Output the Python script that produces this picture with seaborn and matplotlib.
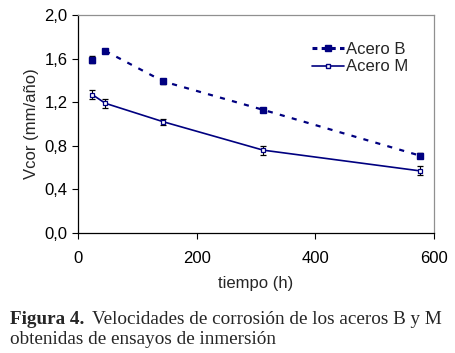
import matplotlib
matplotlib.use("Agg")
import matplotlib.pyplot as plt
import matplotlib.ticker as mticker
import pandas as pd
import seaborn as sns

# Corrosion rates
tiempo = [24, 46, 144, 312, 576]
vcor_b = [1.59, 1.67, 1.39, 1.13, 0.71]
vcor_m = [1.27, 1.19, 1.02, 0.76, 0.57]
err_b = [0.03, 0.02, 0.02, 0.02, 0.02]
err_m = [0.04, 0.04, 0.03, 0.04, 0.04]

NAVY = "#000080"
FS = 12

sns.set_style("white")
plt.rcParams["font.family"] = ["Liberation Sans", "DejaVu Sans"]

df_b = pd.DataFrame({"tiempo": tiempo, "vcor": vcor_b})
df_m = pd.DataFrame({"tiempo": tiempo, "vcor": vcor_m})

fig = plt.figure(figsize=(4.56, 3.53), dpi=100)
ax = fig.add_axes([0.171, 0.34, 0.781, 0.6175])

# Acero B: dashed trend from the second point on, markers on all points
sns.lineplot(data=df_b.iloc[1:], x="tiempo", y="vcor", ax=ax, color=NAVY,
             linestyle=(0, (2.3, 3.3)), lw=1.6, legend=False)
ax.errorbar(tiempo, vcor_b, yerr=err_b, fmt="s", ms=4, color=NAVY,
            mfc=NAVY, ecolor="black", elinewidth=0.8, capsize=2)

# Acero M
sns.lineplot(data=df_m, x="tiempo", y="vcor", ax=ax, color=NAVY,
             lw=1.2, legend=False)
ax.errorbar(tiempo, vcor_m, yerr=err_m, fmt="s", ms=3.5, color=NAVY,
            mfc="white", mew=0.9, ecolor="black", elinewidth=0.8, capsize=2)

ax.set_xlim(0, 600)
ax.set_ylim(0, 2.0)
ax.xaxis.set_major_locator(mticker.MultipleLocator(200))
ax.yaxis.set_major_locator(mticker.MultipleLocator(0.4))
ax.yaxis.set_major_formatter(mticker.FuncFormatter(lambda v, p: f"{v:.1f}".replace(".", ",")))
ax.tick_params(axis="both", direction="out", length=4, width=0.8,
               labelsize=FS, colors="black", bottom=True, left=True)
ax.tick_params(axis="x", pad=9)
ax.set_xlabel("tiempo (h)", fontsize=FS, labelpad=7)
ax.set_ylabel("Vcor (mm/año)", fontsize=FS, labelpad=4)

for side in ["left", "bottom"]:
    ax.spines[side].set_color("black")
    ax.spines[side].set_linewidth(0.9)
for side in ["top", "right"]:
    ax.spines[side].set_color("#909090")
    ax.spines[side].set_linewidth(0.9)

h_b, = ax.plot([], [], color=NAVY, ls=(0, (1.6, 1.4)), lw=2.2, marker="s", ms=4)
h_m, = ax.plot([], [], color=NAVY, lw=1.2, marker="s", ms=3.5, mfc="white")
ax.legend([h_b, h_m], ["Acero B", "Acero M"], loc="upper right",
          bbox_to_anchor=(0.97, 0.945), frameon=False, fontsize=FS,
          handlelength=1.9, handletextpad=0.15, labelspacing=0.15)

serif = ["Liberation Serif", "DejaVu Serif"]
fig.text(0.022, 0.083, "Figura 4.", family=serif, weight="bold", fontsize=13.8)
fig.text(0.202, 0.083, "Velocidades de corrosión de los aceros B y M",
         family=serif, fontsize=13.8)
fig.text(0.022, 0.025, "obtenidas de ensayos de inmersión", family=serif, fontsize=13.8)

fig.savefig("out.png", dpi=100)
